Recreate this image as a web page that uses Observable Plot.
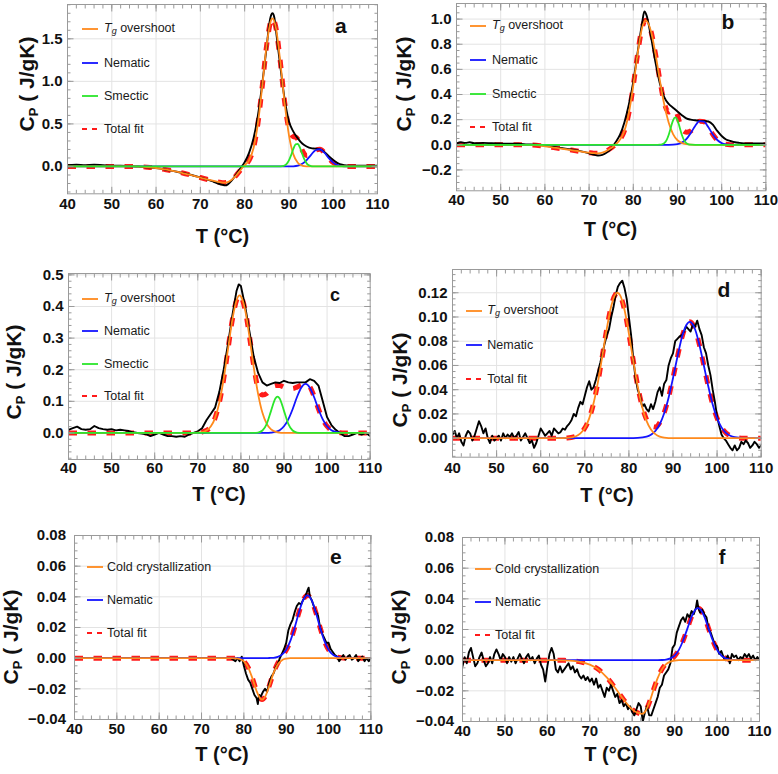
<!DOCTYPE html>
<html><head><meta charset="utf-8">
<script src="https://cdn.jsdelivr.net/npm/d3@7"></script>
<script src="https://cdn.jsdelivr.net/npm/@observablehq/plot@0.6"></script>
<style>
body{margin:0;background:#fff;}
#root{position:relative;width:778px;height:774px;overflow:hidden;background:#fff;font-family:"Liberation Sans",Arial,sans-serif;color:#111;}
.abs{position:absolute;white-space:nowrap;line-height:1;}
svg{overflow:visible;}
</style></head><body><div id="root"></div>
<script>
// ---------- axis ticks / labels ----------
const xTicks = [40,50,60,70,80,90,100,110];
const xTickLabels = ["40","50","60","70","80","90","100","110"];
const xGrid = [50,60,70,80,90,100];

const aYTicks = [0,0.5,1,1.5];
const aYLabels = ["0.0","0.5","1.0","1.5"];
const bYTicks = [-0.2,0,0.2,0.4,0.6,0.8,1.0];
const bYLabels = ["\u22120.2","0.0","0.2","0.4","0.6","0.8","1.0"];
const cYTicks = [0,0.1,0.2,0.3,0.4,0.5];
const cYLabels = ["0.0","0.1","0.2","0.3","0.4","0.5"];
const dYTicks = [0,0.02,0.04,0.06,0.08,0.10,0.12];
const dYLabels = ["0.00","0.02","0.04","0.06","0.08","0.10","0.12"];
const efYTicks = [-0.04,-0.02,0,0.02,0.04,0.06,0.08];
const efYLabels = ["\u22120.04","\u22120.02","0.00","0.02","0.04","0.06","0.08"];

// ---------- panel a ----------
const aBlack = [[40,0.015],[42,0.02],[44,0.015],[46,0.02],[48,0.015],[50,0.01],[52,0.01],[54,0.005],[56,0],[58,-0.01],[60,-0.02],[62,-0.035],[64,-0.055],[66,-0.075],[68,-0.1],[70,-0.13],[72,-0.16],[73,-0.18],[74,-0.2],[75,-0.215],[75.6,-0.222],[76.2,-0.21],[77,-0.17],[78,-0.1],[79,-0.025],[80,0.05],[81,0.16],[82,0.33],[83,0.6],[84,0.98],[85,1.42],[85.5,1.65],[86,1.78],[86.3,1.8],[86.7,1.75],[87,1.63],[88,1.2],[89,0.8],[90,0.53],[91,0.41],[92,0.33],[93,0.27],[94,0.235],[95,0.215],[96,0.21],[97,0.2],[98,0.17],[99,0.12],[100,0.075],[101,0.04],[102,0.02],[103,0.012],[104,0.01],[106,0.01],[108,0.01],[110,0.01]];
const aOrange = [[40,0],[55,0],[58,-0.008],[60,-0.018],[62,-0.035],[64,-0.055],[66,-0.077],[68,-0.103],[70,-0.13],[72,-0.158],[74,-0.182],[75,-0.19],[76,-0.186],[77,-0.16],[78,-0.11],[79,-0.045],[80,0.015],[81,0.072],[82,0.214],[83,0.506],[84,0.955],[85,1.436],[86,1.722],[86.3,1.74],[87,1.646],[88,1.254],[89,0.761],[90,0.369],[91,0.142],[92,0.044],[93,0.011],[94,0.002],[95,0],[110,0]];
const aGreen = [[40,0],[87.5,0],[88,0.0007],[88.5,0.003],[89,0.0106],[89.5,0.03],[90,0.071],[90.5,0.134],[91,0.207],[91.5,0.26],[92,0.266],[92.5,0.22],[93,0.149],[93.5,0.082],[94,0.0365],[94.5,0.0133],[95,0.004],[95.5,0.001],[96,0],[110,0]];
const aBlue = [[40,0],[89,0],[90,0.0004],[91,0.0023],[92,0.0096],[93,0.031],[94,0.075],[95,0.137],[96,0.191],[97,0.2025],[98,0.162],[99,0.098],[100,0.045],[101,0.016],[102,0.004],[103,0.0008],[104,0],[110,0]];
const aTotal = [[40,0],[55,0],[58,-0.008],[60,-0.018],[62,-0.035],[64,-0.055],[66,-0.077],[68,-0.103],[70,-0.13],[72,-0.158],[74,-0.182],[75,-0.19],[76,-0.186],[77,-0.16],[78,-0.11],[79,-0.045],[80,0.015],[81,0.072],[82,0.214],[83,0.506],[84,0.955],[85,1.436],[86,1.722],[86.3,1.74],[87,1.646],[88,1.255],[89,0.772],[90,0.44],[90.5,0.38],[91,0.35],[91.5,0.345],[92,0.32],[93,0.19],[94,0.13],[95,0.145],[96,0.191],[97,0.2025],[98,0.162],[99,0.098],[100,0.045],[101,0.016],[102,0.004],[103,0],[110,0]];

// ---------- panel b ----------
const bBlack = [[40,0.01],[41,0.02],[42,0.015],[43,0.02],[44,0.012],[46,0.015],[48,0.012],[50,0.01],[52,0.008],[54,0.008],[56,0.003],[58,0],[60,-0.008],[62,-0.018],[64,-0.028],[66,-0.038],[68,-0.05],[70,-0.068],[71,-0.078],[72,-0.085],[73,-0.08],[74,-0.062],[75,-0.03],[76,0.02],[77,0.08],[78,0.18],[79,0.32],[80,0.5],[81,0.74],[82,0.97],[82.5,1.06],[83,1.03],[84,0.86],[85,0.66],[86,0.49],[87,0.38],[88,0.325],[89,0.295],[90,0.265],[91,0.235],[92,0.21],[93,0.2],[94,0.195],[95,0.19],[96,0.19],[97,0.185],[98,0.16],[99,0.11],[100,0.07],[101,0.042],[102,0.03],[103,0.02],[104,0.015],[106,0.01],[108,0.01],[110,0.01]];
const bOrange = [[40,0],[56,0],[58,-0.003],[60,-0.012],[62,-0.022],[64,-0.032],[66,-0.042],[68,-0.053],[70,-0.063],[71,-0.067],[72,-0.068],[73,-0.063],[74,-0.048],[75,-0.025],[76,0.002],[77,0.041],[78,0.112],[79,0.253],[80,0.472],[81,0.729],[82,0.932],[82.8,0.99],[84,0.903],[85,0.727],[86,0.515],[87,0.321],[88,0.177],[89,0.085],[90,0.036],[91,0.014],[92,0.0045],[93,0.001],[94,0],[110,0]];
const bGreen = [[40,0],[85.5,0],[86,0.0008],[86.5,0.0036],[87,0.0127],[87.5,0.035],[88,0.078],[88.5,0.138],[89,0.195],[89.5,0.218],[90,0.195],[90.5,0.138],[91,0.078],[91.5,0.035],[92,0.0127],[92.5,0.0036],[93,0.0008],[94,0],[110,0]];
const bBlue = [[40,0],[88,0],[89,0.001],[90,0.005],[91,0.017],[92,0.045],[93,0.093],[94,0.15],[95,0.188],[96,0.184],[97,0.139],[98,0.082],[99,0.038],[100,0.0136],[101,0.0038],[102,0.0008],[103,0],[110,0]];
const bTotal = [[40,0],[56,0],[58,-0.003],[60,-0.012],[62,-0.022],[64,-0.032],[66,-0.042],[68,-0.053],[70,-0.063],[71,-0.067],[72,-0.068],[73,-0.063],[74,-0.048],[75,-0.025],[76,0.002],[77,0.041],[78,0.112],[79,0.253],[80,0.472],[81,0.729],[82,0.932],[82.8,0.99],[84,0.903],[85,0.727],[86,0.516],[87,0.334],[88,0.26],[89,0.28],[89.5,0.275],[90,0.236],[90.5,0.175],[91,0.125],[92,0.1],[93,0.11],[94,0.155],[95,0.188],[96,0.184],[97,0.139],[98,0.082],[99,0.038],[100,0.0136],[101,0.0038],[102,0.0008],[103,0],[110,0]];

// ---------- panel c ----------
const cBlack = [[40,0.01],[41,0.015],[42,0.02],[43,0.012],[44,0.01],[45,0.012],[46,0.022],[47,0.015],[48,0.012],[49,0.01],[50,0.012],[51,0.008],[52,0.01],[53,0.008],[54,0.006],[55,0.002],[56,0],[57,-0.002],[58,-0.004],[59,-0.01],[60,-0.005],[61,0],[62,-0.005],[63,-0.01],[64,-0.01],[65,-0.012],[66,-0.01],[67,-0.012],[68,-0.005],[69,0],[70,0.005],[71,0.015],[72,0.04],[73,0.06],[74,0.08],[75,0.13],[76,0.2],[77,0.28],[78,0.37],[79,0.45],[79.5,0.47],[80,0.465],[81,0.4],[82,0.32],[83,0.24],[84,0.19],[85,0.16],[86,0.15],[87,0.155],[88,0.16],[89,0.158],[90,0.165],[91,0.16],[92,0.158],[93,0.16],[94,0.16],[95,0.16],[96,0.17],[97,0.165],[98,0.15],[99,0.1],[100,0.05],[101,0.025],[102,0.01],[103,0],[104,-0.01],[105,-0.01],[106,-0.005],[107,0],[108,-0.005],[109,0],[110,-0.01]];
const cOrange = [[40,0],[68,0],[70,0.0007],[71,0.0024],[72,0.0075],[73,0.02],[74,0.047],[75,0.096],[76,0.17],[77,0.264],[78,0.357],[79,0.42],[79.7,0.435],[80,0.432],[81,0.388],[82,0.303],[83,0.206],[84,0.123],[85,0.0635],[86,0.0287],[87,0.0113],[88,0.0039],[89,0.0012],[90,0.0003],[91,0],[110,0]];
const cGreen = [[40,0],[83,0],[84,0.0013],[85,0.0076],[86,0.0287],[87,0.0698],[88,0.1088],[88.5,0.115],[89,0.1088],[90,0.0698],[91,0.0287],[92,0.0076],[93,0.0013],[94,0],[110,0]];
const cBlue = [[40,0],[86,0],[87,0.0009],[88,0.0031],[89,0.0087],[90,0.021],[91,0.043],[92,0.075],[93,0.113],[94,0.143],[95,0.155],[96,0.143],[97,0.113],[98,0.075],[99,0.043],[100,0.021],[101,0.0087],[102,0.0031],[103,0.0009],[104,0],[110,0]];
const cTotal = [[40,0],[68,0],[70,0.001],[71,0.003],[72,0.008],[73,0.02],[74,0.047],[75,0.096],[76,0.17],[77,0.264],[78,0.357],[79,0.42],[79.7,0.435],[80,0.432],[81,0.388],[82,0.305],[83,0.21],[84,0.14],[85,0.12],[86,0.125],[87,0.14],[88,0.15],[89,0.15],[90,0.145],[91,0.14],[92,0.14],[93,0.145],[94,0.152],[95,0.155],[96,0.146],[97,0.115],[98,0.076],[99,0.043],[100,0.021],[101,0.0087],[102,0.0031],[103,0.0009],[104,0],[110,0]];

// ---------- panel d ----------
const dBlack = [[40,0.003],[40.5,0.006],[41,0],[41.5,0.004],[42,-0.003],[42.5,-0.006],[43,0.002],[43.5,0.006],[44,0.004],[44.5,-0.002],[45,0.002],[45.5,0.008],[46,0.014],[46.5,0.01],[47,0.004],[47.5,0.008],[48,0],[48.5,-0.004],[49,0.002],[49.5,-0.002],[50,0],[50.5,0.002],[51,-0.002],[51.5,0.004],[52,0],[52.5,0.003],[53,0.001],[53.5,0.004],[54,0],[54.5,0.002],[55,0.005],[55.5,-0.002],[56,0.001],[56.5,0.004],[57,0],[57.5,-0.004],[58,-0.002],[58.5,-0.008],[59,-0.004],[59.5,0.002],[60,0.008],[60.5,0.005],[61,0.002],[61.5,0.004],[62,0.006],[62.5,0.002],[63,0.008],[63.5,0.006],[64,0.004],[64.5,0.005],[65,0.008],[65.5,0.007],[66,0.01],[66.5,0.012],[67,0.015],[67.5,0.02],[68,0.018],[68.5,0.025],[69,0.03],[69.5,0.028],[70,0.035],[70.5,0.042],[71,0.047],[71.5,0.04],[72,0.042],[72.5,0.048],[73,0.055],[73.5,0.062],[74,0.07],[74.5,0.078],[75,0.085],[75.5,0.09],[76,0.1],[76.5,0.108],[77,0.118],[77.5,0.125],[78,0.128],[78.5,0.13],[79,0.124],[79.5,0.115],[80,0.1],[80.5,0.085],[81,0.065],[81.5,0.05],[82,0.04],[82.5,0.035],[83,0.026],[83.5,0.028],[84,0.024],[84.5,0.022],[85,0.028],[85.5,0.024],[86,0.03],[86.5,0.038],[87,0.042],[87.5,0.035],[88,0.045],[88.5,0.048],[89,0.06],[89.5,0.066],[90,0.07],[90.5,0.08],[91,0.082],[91.5,0.084],[92,0.085],[92.5,0.088],[93,0.092],[93.5,0.09],[94,0.088],[94.5,0.094],[95,0.092],[95.5,0.097],[96,0.09],[96.5,0.085],[97,0.075],[97.5,0.07],[98,0.06],[98.5,0.052],[99,0.04],[99.5,0.03],[100,0.018],[100.5,0.01],[101,0.003],[101.5,0],[102,-0.002],[102.5,-0.005],[103,-0.008],[103.5,-0.01],[104,-0.006],[104.5,-0.01],[105,-0.008],[105.5,-0.003],[106,-0.005],[106.5,-0.002],[107,-0.004],[107.5,-0.008],[108,-0.006],[108.5,-0.003],[109,-0.005],[109.5,-0.008],[110,-0.006]];
const dOrange = [[40,0],[64,0],[66,0.0002],[68,0.0016],[69,0.0039],[70,0.0083],[71,0.0163],[72,0.029],[73,0.0467],[74,0.0683],[75,0.0906],[76,0.109],[77,0.119],[77.4,0.12],[78,0.118],[79,0.106],[80,0.0863],[81,0.0638],[82,0.0428],[83,0.026],[84,0.0143],[85,0.0072],[86,0.0033],[87,0.0013],[88,0.0005],[90,0],[110,0]];
const dBlue = [[40,0],[80,0],[82,0.0002],[84,0.0012],[85,0.0028],[86,0.0059],[87,0.0115],[88,0.0205],[89,0.0334],[90,0.0495],[91,0.067],[92,0.0828],[93,0.0932],[93.8,0.096],[94,0.0958],[95,0.0899],[96,0.0769],[97,0.06],[98,0.0428],[99,0.0278],[100,0.0165],[101,0.0089],[102,0.0044],[103,0.002],[104,0.0008],[106,0.0001],[108,0],[110,0]];
const dTotal = [[40,0],[64,0],[66,0.0002],[68,0.0016],[69,0.0039],[70,0.0083],[71,0.0163],[72,0.029],[73,0.0467],[74,0.0683],[75,0.0906],[76,0.109],[77,0.119],[77.4,0.12],[78,0.118],[79,0.106],[80,0.0863],[81,0.0638],[82,0.043],[83,0.0265],[84,0.0155],[85,0.01],[86,0.0092],[87,0.0128],[88,0.021],[89,0.0337],[90,0.0496],[91,0.067],[92,0.0828],[93,0.0932],[93.8,0.096],[94,0.0958],[95,0.0899],[96,0.0769],[97,0.06],[98,0.0428],[99,0.0278],[100,0.0165],[101,0.0089],[102,0.0044],[103,0.002],[104,0.0008],[106,0],[110,0]];

// ---------- panel e ----------
const eBlack = [[40,0],[50,0],[60,0],[70,0],[76,0],[77,0],[77.5,-0.001],[78,-0.002],[78.5,0],[79,-0.002],[79.5,0.001],[80,-0.005],[80.5,-0.01],[81,-0.014],[81.5,-0.016],[82,-0.02],[82.5,-0.024],[83,-0.026],[83.3,-0.03],[83.6,-0.024],[84,-0.025],[84.5,-0.022],[85,-0.02],[85.5,-0.022],[86,-0.016],[86.5,-0.012],[87,-0.01],[87.5,-0.006],[88,-0.004],[88.5,0],[89,0.003],[89.5,0.006],[90,0.01],[90.5,0.018],[91,0.022],[91.5,0.025],[92,0.03],[92.5,0.034],[93,0.036],[93.5,0.035],[94,0.038],[94.5,0.04],[95,0.044],[95.3,0.046],[95.6,0.04],[96,0.038],[96.5,0.034],[97,0.03],[97.5,0.028],[98,0.02],[98.5,0.016],[99,0.013],[99.5,0.01],[100,0.01],[100.5,0.006],[101,0.004],[101.5,0.002],[102,0.001],[102.5,-0.002],[103,0],[103.5,0.002],[104,-0.001],[104.5,0.001],[105,0.002],[105.5,-0.001],[106,0],[106.5,0.002],[107,-0.002],[107.5,0],[108,0.001],[108.5,-0.002],[109,0],[109.5,-0.002],[110,0]];
const eOrange = [[40,0],[76,0],[77,0],[78,-0.0001],[79,-0.00055],[80,-0.0021],[81,-0.006],[82,-0.013],[83,-0.0214],[84,-0.0267],[84.3,-0.027],[85,-0.0252],[86,-0.0181],[87,-0.0098],[88,-0.0041],[89,-0.0013],[90,-0.0003],[91,0],[110,0]];
const eBlue = [[40,0],[85,0],[86,0.0001],[87,0.0002],[88,0.0008],[89,0.0023],[90,0.0055],[91,0.0114],[92,0.02],[93,0.0298],[94,0.0378],[95,0.041],[96,0.0378],[97,0.0298],[98,0.02],[99,0.0114],[100,0.0055],[101,0.0023],[102,0.0008],[103,0.0002],[104,0.0001],[105,0],[110,0]];
const eTotal = [[40,0],[76,0],[78,-0.0001],[79,-0.0005],[80,-0.002],[81,-0.006],[82,-0.013],[83,-0.0214],[84,-0.0267],[84.3,-0.027],[85,-0.0252],[86,-0.018],[87,-0.0096],[88,-0.0033],[89,0.001],[90,0.0052],[91,0.0114],[92,0.02],[93,0.0298],[94,0.0378],[95,0.041],[96,0.0378],[97,0.0298],[98,0.02],[99,0.0114],[100,0.0055],[101,0.0023],[102,0.0008],[103,0.0002],[104,0],[110,0]];

// ---------- panel f ----------
const fBlack = [[40,-0.004],[40.5,0.002],[41,-0.002],[41.5,0.005],[42,0.008],[42.5,0.002],[43,-0.004],[43.5,-0.002],[44,0.002],[44.5,0.005],[45,0],[45.5,-0.004],[46,-0.002],[46.5,0.002],[47,-0.002],[47.5,0.004],[48,0.007],[48.5,0.004],[49,0],[49.5,0.004],[50,0.002],[50.5,-0.002],[51,0.002],[51.5,-0.001],[52,0.002],[52.5,-0.002],[53,0.001],[53.5,0.004],[54,0.001],[54.5,-0.002],[55,0.002],[55.5,0.004],[56,0],[56.5,0.002],[57,-0.002],[57.5,0.001],[58,0.003],[58.5,-0.003],[59,-0.006],[59.5,-0.014],[60,-0.004],[60.5,0.004],[61,0.008],[61.5,0.004],[62,-0.006],[62.5,-0.008],[63,-0.004],[63.5,-0.008],[64,-0.006],[64.5,-0.004],[65,-0.002],[65.5,-0.006],[66,-0.004],[66.5,-0.008],[67,-0.006],[67.5,-0.01],[68,-0.012],[68.5,-0.01],[69,-0.013],[69.5,-0.011],[70,-0.014],[70.5,-0.012],[71,-0.016],[71.5,-0.012],[72,-0.018],[72.5,-0.016],[73,-0.02],[73.5,-0.024],[74,-0.018],[74.5,-0.02],[75,-0.016],[75.5,-0.02],[76,-0.024],[76.5,-0.022],[77,-0.028],[77.5,-0.026],[78,-0.03],[78.5,-0.028],[79,-0.032],[79.5,-0.03],[80,-0.034],[80.5,-0.036],[81,-0.032],[81.5,-0.028],[82,-0.03],[82.5,-0.04],[83,-0.034],[83.5,-0.03],[84,-0.036],[84.5,-0.036],[85,-0.032],[85.5,-0.028],[86,-0.024],[86.5,-0.018],[87,-0.016],[87.5,-0.01],[88,-0.008],[88.5,-0.006],[89,-0.002],[89.5,0.008],[90,0.01],[90.5,0.018],[91,0.022],[91.5,0.026],[92,0.028],[92.5,0.025],[93,0.03],[93.5,0.028],[94,0.032],[94.5,0.03],[95,0.034],[95.3,0.039],[95.6,0.034],[96,0.031],[96.5,0.033],[97,0.03],[97.5,0.028],[98,0.02],[98.5,0.018],[99,0.014],[99.5,0.01],[100,0.009],[100.5,0.004],[101,0.006],[101.5,0.002],[102,0],[102.5,0.003],[103,-0.002],[103.5,0.004],[104,0.002],[104.5,0.003],[105,0],[105.5,0.002],[106,0.001],[106.5,0.004],[107,0.002],[107.5,0.004],[108,0.001],[108.5,0.003],[109,0],[109.5,0.002],[110,0]];
const fOrange = [[40,0],[60,0],[62,0],[64,-0.0001],[66,-0.0004],[68,-0.0012],[70,-0.0029],[72,-0.006],[74,-0.0112],[76,-0.0182],[78,-0.0258],[80,-0.0321],[81,-0.034],[82.3,-0.035],[83,-0.0337],[84,-0.0278],[85,-0.0195],[86,-0.0117],[87,-0.006],[88,-0.0026],[89,-0.001],[90,-0.0003],[91,0],[110,0]];
const fBlue = [[40,0],[86,0],[87,0.0001],[88,0.0004],[89,0.0012],[90,0.003],[91,0.0067],[92,0.0128],[93,0.0206],[94,0.0284],[95,0.0333],[95.5,0.034],[96,0.0333],[97,0.0284],[98,0.0206],[99,0.0128],[100,0.0067],[101,0.003],[102,0.0012],[103,0.0004],[104,0.0001],[105,0],[110,0]];
const fTotal = [[40,0],[62,0],[64,-0.0001],[66,-0.0004],[68,-0.0012],[70,-0.0029],[72,-0.006],[74,-0.0112],[76,-0.0182],[78,-0.0258],[80,-0.0321],[81,-0.034],[82.3,-0.035],[83,-0.0337],[84,-0.0278],[85,-0.0195],[86,-0.0117],[87,-0.0059],[88,-0.0022],[89,0.0002],[90,0.0027],[91,0.0067],[92,0.0128],[93,0.0206],[94,0.0284],[95,0.0333],[95.5,0.034],[96,0.0333],[97,0.0284],[98,0.0206],[99,0.0128],[100,0.0067],[101,0.003],[102,0.0012],[103,0.0004],[104,0.0001],[105,0],[110,0]];

// ---------- legend texts ----------
const TG = '<i>T</i><sub style="font-size:0.72em;vertical-align:-0.3em"><i>g</i></sub> overshoot';
const legABC = [["orange",TG],["blue","Nematic"],["green","Smectic"],["total","Total fit"]];
const legD = [["orange",TG],["blue","Nematic"],["total","Total fit"]];
const legEF = [["orange","Cold crystallization"],["blue","Nematic"],["total","Total fit"]];

// ---------- styles ----------
const COL = {black:"#000", orange:"#ff8a1c", blue:"#1414ff", green:"#2be62b", total:"#ff1a1a"};
const FRAME = "#9a9a9a", GRID = "#e3e3e3";
const FONT = '"Liberation Sans", Arial, sans-serif';

const panels = [
  {frame:[67.3,4,310,189.3], yDomain:[-0.321,1.903], yTicks:aYTicks, yLabels:aYLabels, minor:0.1, xPad:5, yPad:5,
   series:{black:aBlack, orange:aOrange, blue:aBlue, green:aGreen, total:aTotal}, blackCurve:"monotone-x",
   legend:{x:82, tx:104, y0:29.3, dy:33.3, items:legABC}, letter:["a",340.8,25,21], xlab:[222.5,235.5], ylab:[28.3,84]},
  {frame:[456.3,2.7,309.4,187.3], yDomain:[-0.366,1.124], yTicks:bYTicks, yLabels:bYLabels, minor:0.05, xPad:3.5, yPad:5,
   series:{black:bBlack, orange:bOrange, blue:bBlue, green:bGreen, total:bTotal}, blackCurve:"monotone-x",
   legend:{x:470, tx:492, y0:25.7, dy:33.9, items:legABC}, letter:["b",728,21,21], xlab:[610.5,229], ylab:[404.7,84]},
  {frame:[68.3,273.3,301.7,186], yDomain:[-0.084,0.5044], yTicks:cYTicks, yLabels:cYLabels, minor:0.02, xPad:2.5, yPad:5,
   series:{black:cBlack, orange:cOrange, blue:cBlue, green:cGreen, total:cTotal}, blackCurve:"linear",
   legend:{x:82, tx:104, y0:299.3, dy:32.1, items:legABC}, letter:["c",335,294.7,18], xlab:[219,494], ylab:[15,371.7]},
  {frame:[452.3,269,308.7,187.7], yDomain:[-0.0157,0.1392], yTicks:dYTicks, yLabels:dYLabels, minor:0.005, xPad:5, yPad:5,
   series:{black:dBlack, orange:dOrange, blue:dBlue, total:dTotal}, blackCurve:"linear",
   legend:{x:466.3, tx:487.3, y0:311, dy:34.2, items:legD}, letter:["d",723.8,289,21], xlab:[607,495], ylab:[400.5,380]},
  {frame:[74.3,535,296.4,184], yDomain:[-0.04,0.08], yTicks:efYTicks, yLabels:efYLabels, minor:0.005, xPad:4, yPad:8.5,
   series:{black:eBlack, orange:eOrange, blue:eBlue, total:eTotal}, blackCurve:"linear",
   legend:{x:87, tx:107, y0:566.7, dy:33.3, items:legEF}, letter:["e",335.8,555.8,21], xlab:[222,754], ylab:[11.5,636.7]},
  {frame:[462,537,297,184], yDomain:[-0.04,0.08], yTicks:efYTicks, yLabels:efYLabels, minor:0.005, xPad:3.5, yPad:8.5,
   series:{black:fBlack, orange:fOrange, blue:fBlue, total:fTotal}, blackCurve:"linear",
   legend:{x:475, tx:495, y0:568.7, dy:33.3, items:legEF}, letter:["f",722,556.7,20], xlab:[611,754], ylab:[400.3,637]}
];

const root = document.getElementById("root");
function addText(html, x, y, css, anchor) {
  const d = document.createElement("div");
  d.className = "abs";
  d.innerHTML = html;
  d.style.left = x + "px";
  d.style.top = y + "px";
  d.style.transform = anchor === "left" ? "translate(0,-50%)" : "translate(-50%,-50%)";
  d.style.cssText += css;
  root.appendChild(d);
  return d;
}
function stepTicks(domain, step) {
  const out = [];
  for (let i = Math.ceil(domain[0] / step - 1e-9); i * step <= domain[1] + 1e-9; i++) out.push(+(i * step).toFixed(6));
  return out;
}
const xMinor = stepTicks([40,110], 2);

function drawPanel(p) {
  const [fl, ft, fw, fh] = p.frame;
  const ml = 60, mr = 14, mt = 14, mb = 34;
  const xy = {x: d => d[0], y: d => d[1]};
  const fit = (key, sw, extra = {}) => p.series[key]
    ? Plot.line(p.series[key], {...xy, stroke: COL[key], strokeWidth: sw, curve: "monotone-x", clip: true, ...extra})
    : null;
  const yMinor = stepTicks(p.yDomain, p.minor);
  const yMap = new Map(p.yTicks.map((v, i) => [v, p.yLabels[i]]));
  const xMap = new Map(xTicks.map((v, i) => [v, xTickLabels[i]]));
  const tick = {stroke: FRAME, strokeOpacity: 1, text: null, label: null};
  const marks = [
    Plot.gridX(xGrid, {stroke: GRID, strokeOpacity: 1, strokeWidth: 1}),
    Plot.gridY(p.yTicks, {stroke: GRID, strokeOpacity: 1, strokeWidth: 1}),
    fit("total", 5, {strokeDasharray: "8.5,10.5", strokeLinecap: "butt"}),
    Plot.line(p.series.black, {...xy, stroke: COL.black, strokeWidth: 1.9, curve: p.blackCurve, clip: true}),
    fit("blue", 1.8),
    fit("orange", 1.8),
    fit("green", 1.8),
    Plot.frame({stroke: FRAME, strokeWidth: 1}),
    Plot.axisX(xMinor, {...tick, anchor: "bottom", tickSize: -3.5}),
    Plot.axisX(xMinor, {...tick, anchor: "top", tickSize: -3.5}),
    Plot.axisX(xTicks, {...tick, anchor: "bottom", tickSize: -6.5}),
    Plot.axisX(xTicks, {...tick, anchor: "top", tickSize: -6.5}),
    Plot.axisY(yMinor, {...tick, anchor: "left", tickSize: -3.5}),
    Plot.axisY(yMinor, {...tick, anchor: "right", tickSize: -3.5}),
    Plot.axisY(p.yTicks, {...tick, anchor: "left", tickSize: -6.5}),
    Plot.axisY(p.yTicks, {...tick, anchor: "right", tickSize: -6.5}),
    Plot.axisX(xTicks, {anchor: "bottom", tickSize: 0, tickPadding: p.xPad, label: null, tickFormat: d => xMap.get(d), fill: "#111"}),
    Plot.axisY(p.yTicks, {anchor: "left", tickSize: 0, tickPadding: p.yPad, label: null, tickFormat: d => yMap.get(d), fill: "#111"})
  ].filter(Boolean);
  const svg = Plot.plot({
    width: fw + ml + mr, height: fh + mt + mb,
    marginLeft: ml, marginRight: mr, marginTop: mt, marginBottom: mb,
    x: {domain: [40,110], label: null},
    y: {domain: p.yDomain, label: null},
    style: {fontFamily: FONT, fontSize: "15px", fontWeight: "bold", background: "transparent", overflow: "visible", color: "#111"},
    marks
  });
  svg.style.position = "absolute";
  svg.style.left = (fl - ml) + "px";
  svg.style.top = (ft - mt) + "px";
  root.appendChild(svg);

  // legend
  const L = p.legend;
  L.items.forEach(([key, label], i) => {
    const y = L.y0 + i * L.dy;
    const ns = "http://www.w3.org/2000/svg";
    const s = document.createElementNS(ns, "svg");
    s.setAttribute("width", 17); s.setAttribute("height", 6);
    s.style.position = "absolute"; s.style.left = L.x + "px"; s.style.top = (y - 3) + "px";
    const ln = document.createElementNS(ns, "line");
    ln.setAttribute("x1", 0); ln.setAttribute("x2", 16); ln.setAttribute("y1", 3); ln.setAttribute("y2", 3);
    ln.setAttribute("stroke", COL[key]);
    ln.setAttribute("stroke-width", key === "total" ? 2.2 : 1.8);
    if (key === "total") ln.setAttribute("stroke-dasharray", "5,5");
    s.appendChild(ln);
    root.appendChild(s);
    addText(label, L.tx, y, `font-size:12.5px;font-family:${FONT};color:#1a1a1a;`, "left");
  });
  // panel letter
  const [t, lx, ly, ls] = p.letter;
  addText(t, lx, ly, `font-size:${ls}px;font-weight:bold;font-family:${FONT};color:#111;`);
  // axis titles
  addText("T (°C)", p.xlab[0], p.xlab[1], `font-size:20px;font-weight:bold;font-family:${FONT};color:#111;`);
  const yl = addText('C<sub style="font-size:0.62em;vertical-align:-0.25em">P</sub> ( J/gK)', p.ylab[0], p.ylab[1],
    `font-size:21px;font-weight:bold;font-family:${FONT};color:#111;`);
  yl.style.transform = "translate(-50%,-50%) rotate(-90deg)";
}
panels.forEach(drawPanel);
</script></body></html>
